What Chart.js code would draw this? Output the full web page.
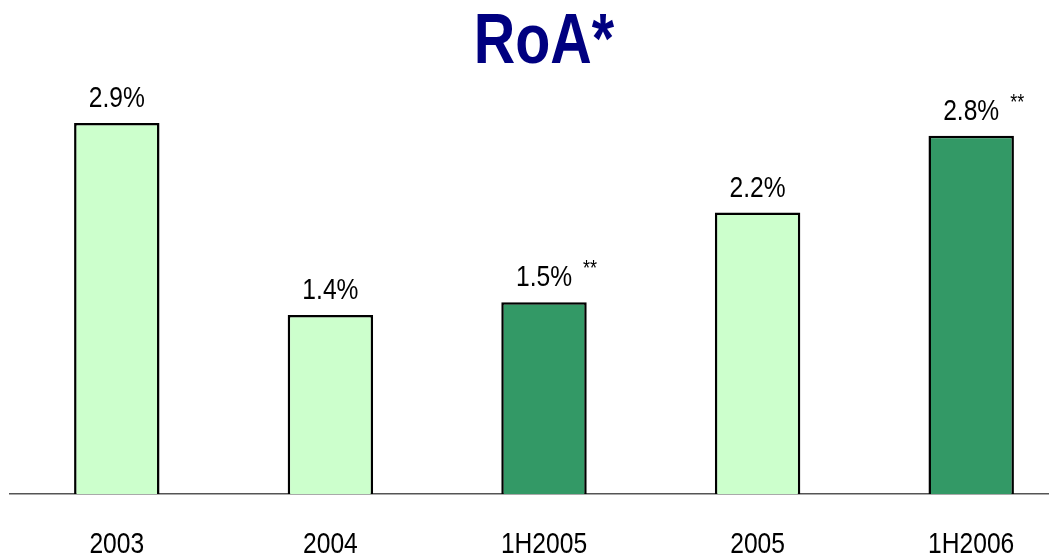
<!DOCTYPE html>
<html>
<head>
<meta charset="utf-8">
<script src="https://cdn.jsdelivr.net/npm/chart.js@4"></script>
<style>
  html, body { margin: 0; padding: 0; background: #fff; overflow: hidden; }
  #wrap { width: 1088px; height: 557px; }
</style>
</head>
<body>
<div id="wrap"><canvas id="roaChart"></canvas></div>
<script>
// values
const periods = ['2003', '2004', '1H2005', '2005', '1H2006'];
const roaValues = [2.9, 1.4, 1.5, 2.2, 2.8];
const footnotes = ['', '', '**', '', '**'];
const barColors = ['#CCFFCC', '#CCFFCC', '#339966', '#CCFFCC', '#339966'];
const chartTitle = 'RoA*';

const baseFont = '"Liberation Sans", Arial, sans-serif';

// no narrow font installed, so squeeze the text horizontally
function narrowText(ctx, text, x, y) {
  ctx.save();
  ctx.translate(x, y);
  ctx.scale(0.82, 1);
  ctx.fillText(text, 0, 0);
  ctx.restore();
}

// title, value labels above bars, ** marks and category labels
const textLayer = {
  id: 'textLayer',
  afterDatasetsDraw(chart) {
    const ctx = chart.ctx;
    const area = chart.chartArea;
    const xScale = chart.scales.x;
    const meta = chart.getDatasetMeta(0);
    ctx.save();
    ctx.textAlign = 'center';
    ctx.textBaseline = 'alphabetic';

    ctx.fillStyle = '#000080';
    ctx.font = 'bold 70px ' + baseFont;
    narrowText(ctx, chartTitle, (area.left + area.right) / 2, 63);

    ctx.fillStyle = '#000';
    meta.data.forEach(function(bar, i) {
      ctx.font = '30px ' + baseFont;
      narrowText(ctx, roaValues[i].toFixed(1) + '%', bar.x, bar.y - 16);
      if (footnotes[i]) {
        ctx.font = '22px ' + baseFont;
        narrowText(ctx, footnotes[i], bar.x + 46, bar.y - 27);
      }
    });

    ctx.font = '30px ' + baseFont;
    periods.forEach(function(p, i) {
      narrowText(ctx, p, xScale.getPixelForValue(i), 553);
    });
    ctx.restore();
  }
};

new Chart(document.getElementById('roaChart'), {
  type: 'bar',
  data: {
    labels: periods,
    datasets: [{
      data: roaValues,
      backgroundColor: barColors,
      borderColor: '#000',
      borderWidth: 2.5,
      borderSkipped: 'bottom',
      barPercentage: 0.4,
      categoryPercentage: 1
    }]
  },
  options: {
    responsive: true,
    maintainAspectRatio: false,
    animation: false,
    layout: { padding: { left: 10, right: 10, top: 70, bottom: 63 } },
    plugins: {
      legend: { display: false },
      tooltip: { enabled: false },
      title: { display: false }
    },
    scales: {
      x: {
        grid: { display: false, drawTicks: false },
        border: { display: true, color: '#555', width: 1.5 },
        ticks: { display: false }
      },
      y: {
        display: false,
        min: 0,
        max: 3.315
      }
    }
  },
  plugins: [textLayer]
});
</script>
</body>
</html>
